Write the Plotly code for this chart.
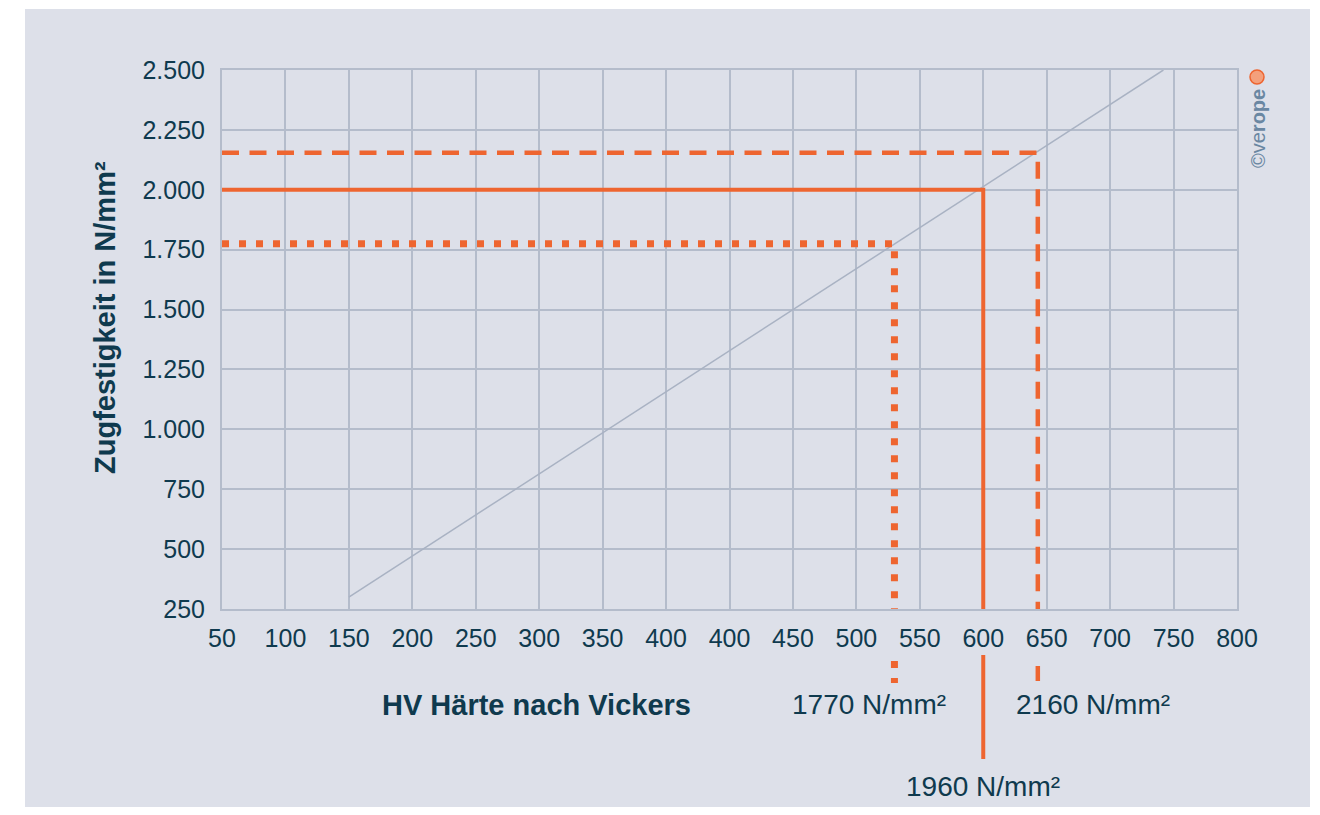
import plotly.graph_objects as go

# ---- data ----
x_tick_vals = [50, 100, 150, 200, 250, 300, 350, 400, 450, 500, 550, 600, 650, 700, 750, 800, 850]
x_tick_labels = ["50", "100", "150", "200", "250", "300", "350", "400", "400",
                 "450", "500", "550", "600", "650", "700", "750", "800"]
y_tick_vals = [250, 500, 750, 1000, 1250, 1500, 1750, 2000, 2250, 2500]
y_tick_labels = ["250", "500", "750", "1.000", "1.250", "1.500", "1.750", "2.000", "2.250", "2.500"]

diag_hv = [150, 792]
diag_rm = [300, 2500]

ref_hv = [580, 650, 693]          # dotted, solid, dashed (axis units)
ref_rm = [1775, 2000, 2155]
ref_labels = ["1770 N/mm²", "1960 N/mm²", "2160 N/mm²"]

X_MIN, X_MAX = 50, 850
Y_MIN, Y_MAX = 250, 2500

# ---- styles ----
ORANGE = "#ee6530"
GRID = "#b4bccb"
TEXT = "#0f3a4e"
BG = "#dde0e9"
FONT = "Liberation Sans, Arial, Helvetica, sans-serif"
styles = [dict(width=7, dash="7px,10px"),
          dict(width=4, dash="solid"),
          dict(width=4.5, dash="17px,10.5px")]

# plot area in screen px (page has 8px body margin)
PL, PT, PW, PH = 222, 70, 1015, 539
def px(sx):
    return (sx - PL) / PW
def py(sy):
    return (PT + PH - sy) / PH

fig = go.Figure()

fig.add_trace(go.Scatter(x=diag_hv, y=diag_rm, mode="lines",
                         line=dict(color="#a9b2c3", width=1.5), hoverinfo="skip"))

for hv, rm, st in zip(ref_hv, ref_rm, styles):
    fig.add_trace(go.Scatter(x=[X_MIN, hv, hv], y=[rm, rm, Y_MIN], mode="lines",
                             line=dict(color=ORANGE, width=st["width"], dash=st["dash"]),
                             hoverinfo="skip"))

shapes = []
# outer background panel
shapes.append(dict(type="rect", xref="paper", yref="paper",
                   x0=px(25), x1=px(1310), y0=py(812), y1=py(9),
                   fillcolor=BG, line=dict(width=0), layer="below"))
# tails of reference lines below the axis
tails = [(661, 683), (655, 759), (666, 681)]
for hv, st, (a, b) in zip(ref_hv, styles, tails):
    shapes.append(dict(type="line", xref="x", yref="paper", x0=hv, x1=hv,
                       y0=py(a), y1=py(b),
                       line=dict(color=ORANGE, width=st["width"], dash=st["dash"])))
# logo dot
shapes.append(dict(type="circle", xref="paper", yref="paper",
                   x0=px(1250), x1=px(1264), y0=py(84), y1=py(70),
                   fillcolor="#f4a07c", line=dict(color=ORANGE, width=1.5)))

def ann(text, sx, sy, size, color=TEXT, angle=0):
    return dict(text=text, x=px(sx), y=py(sy), xref="paper", yref="paper",
                xanchor="center", yanchor="middle", showarrow=False, textangle=angle,
                font=dict(size=size, color=color, family=FONT))

annotations = [
    ann("<b>HV Härte nach Vickers</b>", 536, 705, 29),
    ann("<b>Zugfestigkeit in N/mm²</b>", 105, 318, 29, angle=-90),
    ann(ref_labels[0], 869, 704, 28),
    ann(ref_labels[1], 983, 786, 28),
    ann(ref_labels[2], 1093, 704, 28),
    ann("©ve<b>rope</b>", 1258, 129, 20, color="#6a87a2", angle=-90),
]

axis_common = dict(showgrid=True, gridcolor=GRID, gridwidth=2, showline=True, mirror=True,
                   linecolor=GRID, linewidth=2, zeroline=False, ticks="",
                   tickfont=dict(size=25, color=TEXT, family=FONT))

fig.update_layout(
    width=1304, height=799,
    margin=dict(l=214, r=75, t=62, b=198),
    paper_bgcolor="white", plot_bgcolor="rgba(0,0,0,0)",
    showlegend=False,
    xaxis=dict(range=[X_MIN, X_MAX], tickvals=x_tick_vals, ticktext=x_tick_labels,
               ticklabelstandoff=6, **axis_common),
    yaxis=dict(range=[Y_MIN, Y_MAX], tickvals=y_tick_vals, ticktext=y_tick_labels,
               ticklabelstandoff=10, **axis_common),
    shapes=shapes, annotations=annotations,
)

fig.write_html("out.html")
